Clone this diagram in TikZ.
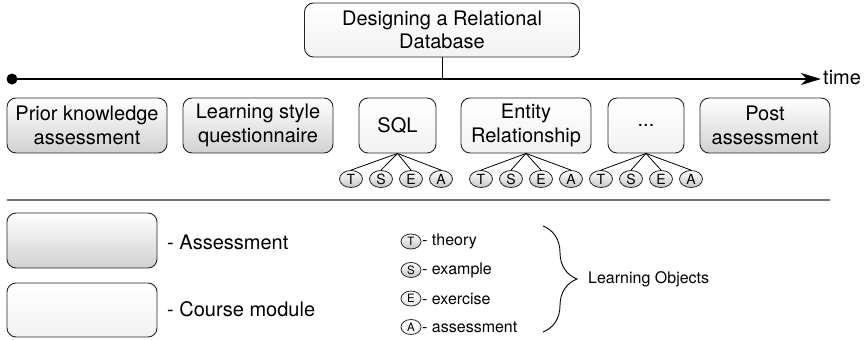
\documentclass[tikz,border=0pt]{standalone}
\usepackage{fontspec}
\setmainfont{TeX Gyre Heros}
\usepackage{tikz}
\usetikzlibrary{shapes.geometric,arrows.meta,decorations.pathreplacing}

\newcommand{\bigtxt}{\fontsize{20}{23.5}\selectfont}
\newcommand{\midtxt}{\fontsize{16}{19}\selectfont}
\newcommand{\lotxt}{\fontsize{14}{14}\selectfont}
\newcommand{\legtxt}{\fontsize{11.5}{11.5}\selectfont}

\tikzset{
  assessment/.style={draw=black!85, line width=0.9pt, rounded corners=9pt, top color=white, bottom color=black!18, align=center, font=\bigtxt},
  module/.style={draw=black!85, line width=0.9pt, rounded corners=9pt, top color=white, bottom color=black!5, align=center, font=\bigtxt},
  lobj/.style={ellipse, draw=black!85, line width=0.8pt, top color=white, bottom color=black!22, minimum width=23pt, minimum height=17pt, font=\lotxt},
  legobj/.style={lobj, minimum width=20pt, minimum height=15pt, font=\legtxt},
}

\begin{document}
\begin{tikzpicture}[x=1pt,y=1pt]
\tikzstyle{every node}+=[inner sep=0pt]
\useasboundingbox (0,0) rectangle (868,-340);
% course and time line
\node [module, minimum width=275pt, minimum height=54pt] (topic) at (442,-30) {Designing a Relational\\Database};
\node [circle, fill=black, minimum size=11pt] (start) at (12,-79) {};
\coordinate (end) at (821,-79);
\draw [black, line width=2pt, -{Stealth[length=20pt, width=12pt, inset=6pt]}] (start.center) -- (end);
\node [anchor=west, font=\bigtxt] (time) at (823,-78) {time};
\draw [black, line width=0.9pt] (topic.south) -- (topic.south |- start);
% modules along the time line
\node [assessment, minimum width=160pt, minimum height=55pt] (prior) at (87,-125.5) {Prior knowledge\\assessment};
\node [assessment, minimum width=150pt, minimum height=55pt] (style) at (258,-125.5) {Learning style\\questionnaire};
\node [module, minimum width=77pt, minimum height=55pt] (sql) at (397.5,-125.5) {SQL};
\node [module, minimum width=130pt, minimum height=55pt] (er) at (526,-125.5) {Entity\\Relationship};
\node [module, minimum width=76pt, minimum height=55pt] (more) at (646,-125.5) {...};
\node [assessment, minimum width=130pt, minimum height=55pt] (post) at (765,-125.5) {Post\\assessment};
% learning objects
\node [lobj] (sqlT) at (351,-179) {T};
\node [lobj] (sqlS) at (381,-179) {S};
\node [lobj] (sqlE) at (411,-179) {E};
\node [lobj] (sqlA) at (441,-179) {A};
\draw [black, line width=0.8pt] (sql.south) -- (sqlT.north);
\draw [black, line width=0.8pt] (sql.south) -- (sqlS.north);
\draw [black, line width=0.8pt] (sql.south) -- (sqlE.north);
\draw [black, line width=0.8pt] (sql.south) -- (sqlA.north);
\node [lobj] (erT) at (481,-179) {T};
\node [lobj] (erS) at (511,-179) {S};
\node [lobj] (erE) at (541,-179) {E};
\node [lobj] (erA) at (571,-179) {A};
\draw [black, line width=0.8pt] (er.south) -- (erT.north);
\draw [black, line width=0.8pt] (er.south) -- (erS.north);
\draw [black, line width=0.8pt] (er.south) -- (erE.north);
\draw [black, line width=0.8pt] (er.south) -- (erA.north);
\node [lobj] (moreT) at (601,-179) {T};
\node [lobj] (moreS) at (631,-179) {S};
\node [lobj] (moreE) at (661,-179) {E};
\node [lobj] (moreA) at (691,-179) {A};
\draw [black, line width=0.8pt] (more.south) -- (moreT.north);
\draw [black, line width=0.8pt] (more.south) -- (moreS.north);
\draw [black, line width=0.8pt] (more.south) -- (moreE.north);
\draw [black, line width=0.8pt] (more.south) -- (moreA.north);
% legend
\coordinate (sepL) at (7,-200);
\coordinate (sepR) at (830,-200);
\draw [black!55, line width=1.5pt] (sepL) -- (sepR);
\node [assessment, minimum width=150pt, minimum height=55pt] (keyA) at (82,-240.5) {};
\node [anchor=west, font=\bigtxt] (keyAtxt) at (167,-242) {- Assessment};
\node [module, minimum width=150pt, minimum height=54pt] (keyM) at (82,-310) {};
\node [anchor=west, font=\bigtxt] (keyMtxt) at (167,-309) {- Course module};
\node [legobj] (keyT) at (411,-241.5) {T};
\node [anchor=west, font=\midtxt] (keyTtxt) at (422,-241.5) {- theory};
\node [legobj] (keyS) at (411,-270) {S};
\node [anchor=west, font=\midtxt] (keyStxt) at (422,-270) {- example};
\node [legobj, bottom color=black!10] (keyE) at (411,-298.5) {E};
\node [anchor=west, font=\midtxt] (keyEtxt) at (422,-298.5) {- exercise};
\node [legobj, bottom color=black!4] (keyAo) at (411,-327) {A};
\node [anchor=west, font=\midtxt] (keyAotxt) at (422,-327) {- assessment};
\coordinate (braceT) at (543,-226);
\coordinate (braceB) at (543,-332);
\draw [black, line width=0.9pt, decorate, decoration={brace, amplitude=34pt}] (braceT) -- (braceB);
\node [anchor=west, font=\midtxt] (lo) at (588,-279) {Learning Objects};
\end{tikzpicture}
\end{document}
